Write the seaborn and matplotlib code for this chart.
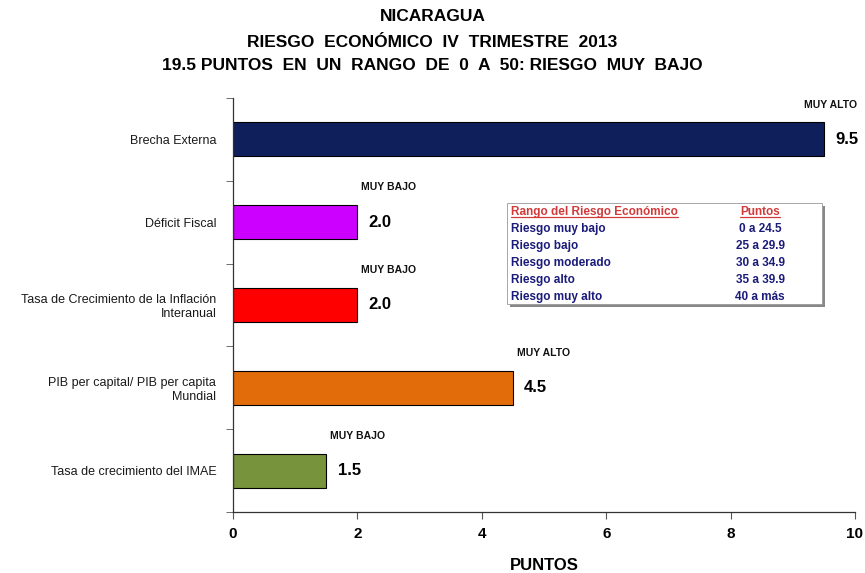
import numpy as np
import seaborn as sns
import matplotlib.pyplot as plt
import pandas as pd
from matplotlib.lines import Line2D

# datos del grafico
categorias = ["Brecha Externa", "Déficit Fiscal",
              "Tasa de Crecimiento de la Inflación\nInteranual",
              "PIB per capital/ PIB per capita\nMundial",
              "Tasa de crecimiento del IMAE"]
puntos = [9.5, 2.0, 2.0, 4.5, 1.5]
nivel = ["MUY ALTO", "MUY BAJO", "MUY BAJO", "MUY ALTO", "MUY BAJO"]
colores = ["#0f1f5c", "#cc00ff", "#ff0000", "#e36c0a", "#77933c"]

rangos = ["Riesgo muy bajo", "Riesgo bajo", "Riesgo moderado", "Riesgo alto", "Riesgo muy alto"]
rangos_puntos = ["0 a 24.5", "25 a 29.9", "30 a 34.9", "35 a 39.9", "40 a más"]

df = pd.DataFrame({"cat": categorias, "val": puntos})

sns.set_style("white")
plt.rcParams["font.family"] = ["Liberation Sans", "DejaVu Sans"]
plt.rcParams["text.color"] = "black"
plt.rcParams["xtick.color"] = "black"
plt.rcParams["ytick.color"] = "black"
plt.rcParams["axes.labelcolor"] = "black"

fig = plt.figure(figsize=(8.65, 5.73), dpi=100)
ax = fig.add_axes([0.2694, 0.1065, 0.7190, 0.7225])

sns.barplot(data=df, y="cat", x="val", hue="cat", palette=colores, legend=False,
            orient="h", width=0.41, saturation=1, edgecolor="black", linewidth=0.8, ax=ax)

ax.set_xlim(0, 10)
ax.set_ylim(len(categorias) - 0.5, -0.5)
ax.set_xticks(np.arange(0, 11, 2))
ax.set_xticklabels([str(v) for v in range(0, 11, 2)], fontsize=11, fontweight="bold")
ax.set_yticks(range(len(categorias)))
ax.set_yticklabels(categorias, fontsize=9, color="#1a1a1a")
ax.set_yticks(np.arange(-0.5, len(categorias), 1), minor=True)
ax.tick_params(axis="y", which="major", length=0, pad=12)
ax.tick_params(axis="y", which="minor", length=5, direction="out", color="#555555", left=True)
ax.tick_params(axis="x", length=5, direction="out", color="#555555", bottom=True, pad=6)
ax.set_ylabel("")
ax.set_xlabel("PUNTOS", fontsize=12, fontweight="bold", labelpad=12)
for s in ["top", "right"]:
    ax.spines[s].set_visible(False)
for s in ["left", "bottom"]:
    ax.spines[s].set_color("#333333")
    ax.spines[s].set_linewidth(0.9)

# etiquetas de valor y nivel
for i, (v, n) in enumerate(zip(puntos, nivel)):
    ax.text(v + 0.18, i, f"{v:.1f}", va="center", ha="left", fontsize=12, fontweight="bold")
    ax.text(min(v + 0.5, 9.6), i - 0.42, n, va="center", ha="center", fontsize=7.5,
            fontweight="bold", color="#111111")

# titulo
fig.text(0.5, 0.972, "NICARAGUA", ha="center", va="center", fontsize=12.5, fontweight="bold")
fig.text(0.5, 0.926, "RIESGO  ECONÓMICO  IV  TRIMESTRE  2013", ha="center", va="center",
         fontsize=12.5, fontweight="bold")
fig.text(0.5, 0.885, "19.5 PUNTOS  EN  UN  RANGO  DE  0  A  50: RIESGO  MUY  BAJO", ha="center",
         va="center", fontsize=12.5, fontweight="bold")

# cuadro de rangos
bx0, bx1 = 507 / 865, 822 / 865
by0, by1 = 1 - 304 / 573, 1 - 203 / 573
fig.patches.append(plt.Rectangle((bx0 + 0.003, by0 - 0.005), bx1 - bx0, by1 - by0,
                                 transform=fig.transFigure, facecolor="#888888",
                                 edgecolor="none", zorder=1))
fig.patches.append(plt.Rectangle((bx0, by0), bx1 - bx0, by1 - by0, transform=fig.transFigure,
                                 facecolor="white", edgecolor="#999999", linewidth=0.6, zorder=2))
navy = "#1b1b7a"
rojo = "#d23a3a"
y_h = 1 - 212 / 573
t1 = fig.text(511 / 865, y_h, "Rango del Riesgo Económico", ha="left", va="center",
              fontsize=8.5, fontweight="bold", color=rojo, zorder=3)
t2 = fig.text(760 / 865, y_h, "Puntos", ha="center", va="center",
              fontsize=8.5, fontweight="bold", color=rojo, zorder=3)
fig.canvas.draw()
for t in (t1, t2):
    bb = t.get_window_extent().transformed(fig.transFigure.inverted())
    fig.lines.append(Line2D([bb.x0, bb.x1], [bb.y0 + 0.002, bb.y0 + 0.002],
                            transform=fig.transFigure, color=rojo, linewidth=0.9, zorder=3))
for k, (r, p) in enumerate(zip(rangos, rangos_puntos)):
    yy = 1 - (229 + 17 * k) / 573
    fig.text(511 / 865, yy, r, ha="left", va="center", fontsize=8.5, fontweight="bold",
             color=navy, zorder=3)
    fig.text(760 / 865, yy, p, ha="center", va="center", fontsize=8.5, fontweight="bold",
             color=navy, zorder=3)

fig.savefig("out.png", dpi=100)
